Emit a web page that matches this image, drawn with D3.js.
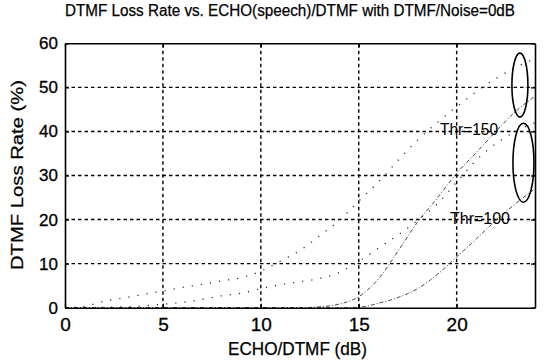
<!DOCTYPE html>
<html>
<head>
<meta charset="utf-8">
<script src="https://cdn.jsdelivr.net/npm/d3@7"></script>
<style>
  html, body { margin: 0; padding: 0; background: #fff; }
  svg { display: block; }
  text { font-family: "Liberation Sans", Arial, sans-serif; fill: #000; }
</style>
</head>
<body>
<svg id="chart" width="552" height="363"></svg>
<script>
// ECHO/DTMF ratio in dB
const echoDb = [0,1,2,3,4,5,6,7,8,9,10,11,12,13,14,15,16,17,18,19,20,21,22,23,24];

// DTMF loss rate (%) — dotted curves
const dottedHigh = [0,0.3,1.5,2.2,3.0,3.8,4.6,5.3,6.1,6.8,8.3,10.6,13.0,16.3,19.8,24.2,28.5,33.4,38.0,42.0,45.6,49.0,52.0,54.5,56.5];
const dottedLow  = [0,0,0.1,0.2,0.4,0.8,1.2,1.9,2.7,3.3,4.3,5.2,5.9,6.6,8.0,10.5,13.5,16.5,19.8,23.5,28.5,33.5,37.2,40.0,42.0];

// DTMF loss rate (%) — dash-dot curves, detection thresholds 150 and 100
const thr150 = [0,0,0,0,0,0,0,0,0,0,0,0,0,0.2,0.8,2.5,6.5,12.8,19.4,24.8,30.5,35.2,40.0,44.5,48.0];
const thr100 = [0,0,0,0,0,0,0,0,0,0,0,0,0,0,0,0.1,1.0,2.3,4.3,7.5,11.5,15.6,19.8,23.6,27.0];

const xTicks = [0,5,10,15,20];
const yTicks = [0,10,20,30,40,50,60];

const titleText = "DTMF Loss Rate vs. ECHO(speech)/DTMF with DTMF/Noise=0dB";
const xLabel = "ECHO/DTMF (dB)";
const yLabel = "DTMF Loss Rate (%)";

const svg = d3.select("#chart");
const plotLeft = 65, plotRight = 535, plotTop = 43.3, plotBottom = 307.7;

const x = d3.scaleLinear().domain([0, 24]).range([plotLeft, plotRight]);
const y = d3.scaleLinear().domain([0, 60]).range([plotBottom, plotTop]);

// grid
const grid = svg.append("g").attr("stroke", "#000").attr("stroke-width", 1.4)
  .attr("stroke-dasharray", "3.5,3");
grid.selectAll("line.v").data(xTicks.filter(d => d > 0)).join("line").attr("class", "v")
  .attr("x1", d => x(d)).attr("x2", d => x(d))
  .attr("y1", plotBottom).attr("y2", plotTop);
grid.selectAll("line.h").data(yTicks.filter(d => d > 0 && d < 60)).join("line").attr("class", "h")
  .attr("x1", plotLeft).attr("x2", plotRight)
  .attr("y1", d => y(d)).attr("y2", d => y(d));

// curves
const line = d3.line().x((d, i) => x(echoDb[i])).y(d => y(d)).curve(d3.curveMonotoneX);
const curves = [
  { v: dottedHigh, dash: "1.2,8", w: 1.3 },
  { v: dottedLow,  dash: "1.2,8", w: 1.3 },
  { v: thr150,     dash: "4,2,1,2", w: 0.9 },
  { v: thr100,     dash: "4,2,1,2", w: 0.9 }
];
svg.append("g").selectAll("path").data(curves).join("path")
  .attr("d", d => line(d.v))
  .attr("fill", "none").attr("stroke", "#333")
  .attr("stroke-width", d => d.w)
  .attr("stroke-dasharray", d => d.dash);

// axes box with inward ticks
const axB = d3.axisBottom(x).tickValues(xTicks).tickSizeInner(-4).tickSizeOuter(0).tickPadding(10).tickFormat(d3.format("d"));
const axT = d3.axisTop(x).tickValues(xTicks).tickSizeInner(-4).tickSizeOuter(0).tickFormat("");
const axL = d3.axisLeft(y).tickValues(yTicks).tickSizeInner(-4).tickSizeOuter(0).tickPadding(7).tickFormat(d3.format("d"));
const axR = d3.axisRight(y).tickValues(yTicks).tickSizeInner(-4).tickSizeOuter(0).tickFormat("");

const gB = svg.append("g").attr("transform", `translate(0,${plotBottom})`).call(axB);
const gT = svg.append("g").attr("transform", `translate(0,${plotTop})`).call(axT);
const gL = svg.append("g").attr("transform", `translate(${plotLeft},0)`).call(axL);
const gR = svg.append("g").attr("transform", `translate(${plotRight},0)`).call(axR);
[gB, gT, gL, gR].forEach(g => {
  g.select(".domain").attr("stroke", "#000").attr("stroke-width", 1.6);
  g.selectAll(".tick line").attr("stroke", "#000").attr("stroke-width", 1.3);
});
gB.selectAll(".tick text").attr("font-size", 19).attr("font-family", "Liberation Sans, Arial, sans-serif")
  .attr("fill", "#000").attr("stroke", "#000").attr("stroke-width", 0.3);
gL.selectAll(".tick text").attr("font-size", 17).attr("font-family", "Liberation Sans, Arial, sans-serif")
  .attr("fill", "#000").attr("stroke", "#000").attr("stroke-width", 0.3);

// title and axis labels
svg.append("text").attr("x", 290).attr("y", 15.5).attr("text-anchor", "middle")
  .attr("font-size", 16).attr("textLength", 450).attr("lengthAdjust", "spacingAndGlyphs")
  .attr("stroke", "#000").attr("stroke-width", 0.25)
  .text(titleText);
svg.append("text").attr("x", 297.5).attr("y", 355).attr("text-anchor", "middle")
  .attr("font-size", 18).attr("textLength", 139).attr("lengthAdjust", "spacingAndGlyphs")
  .attr("stroke", "#000").attr("stroke-width", 0.25)
  .text(xLabel);
svg.append("text").attr("transform", "translate(23,175) rotate(-90)").attr("text-anchor", "middle")
  .attr("font-size", 17).attr("textLength", 190).attr("lengthAdjust", "spacingAndGlyphs")
  .attr("stroke", "#000").attr("stroke-width", 0.25)
  .text(yLabel);

// threshold annotations
svg.append("text").attr("x", 469).attr("y", 134.5).attr("text-anchor", "middle")
  .attr("font-size", 16).attr("textLength", 58).attr("lengthAdjust", "spacingAndGlyphs")
  .text("Thr=150");
svg.append("text").attr("x", 480).attr("y", 224).attr("text-anchor", "middle")
  .attr("font-size", 16).attr("textLength", 60).attr("lengthAdjust", "spacingAndGlyphs")
  .text("Thr=100");

// ellipses grouping curve ends at the right edge
const ellipses = [
  { cx: 23.23, cy: 50.5, rx: 8, ry: 32 },
  { cx: 23.41, cy: 32.9, rx: 10.5, ry: 39.5 }
];
svg.append("g").selectAll("ellipse").data(ellipses).join("ellipse")
  .attr("cx", d => x(d.cx)).attr("cy", d => y(d.cy))
  .attr("rx", d => d.rx).attr("ry", d => d.ry)
  .attr("fill", "none").attr("stroke", "#000").attr("stroke-width", 1.6);
</script>
</body>
</html>
